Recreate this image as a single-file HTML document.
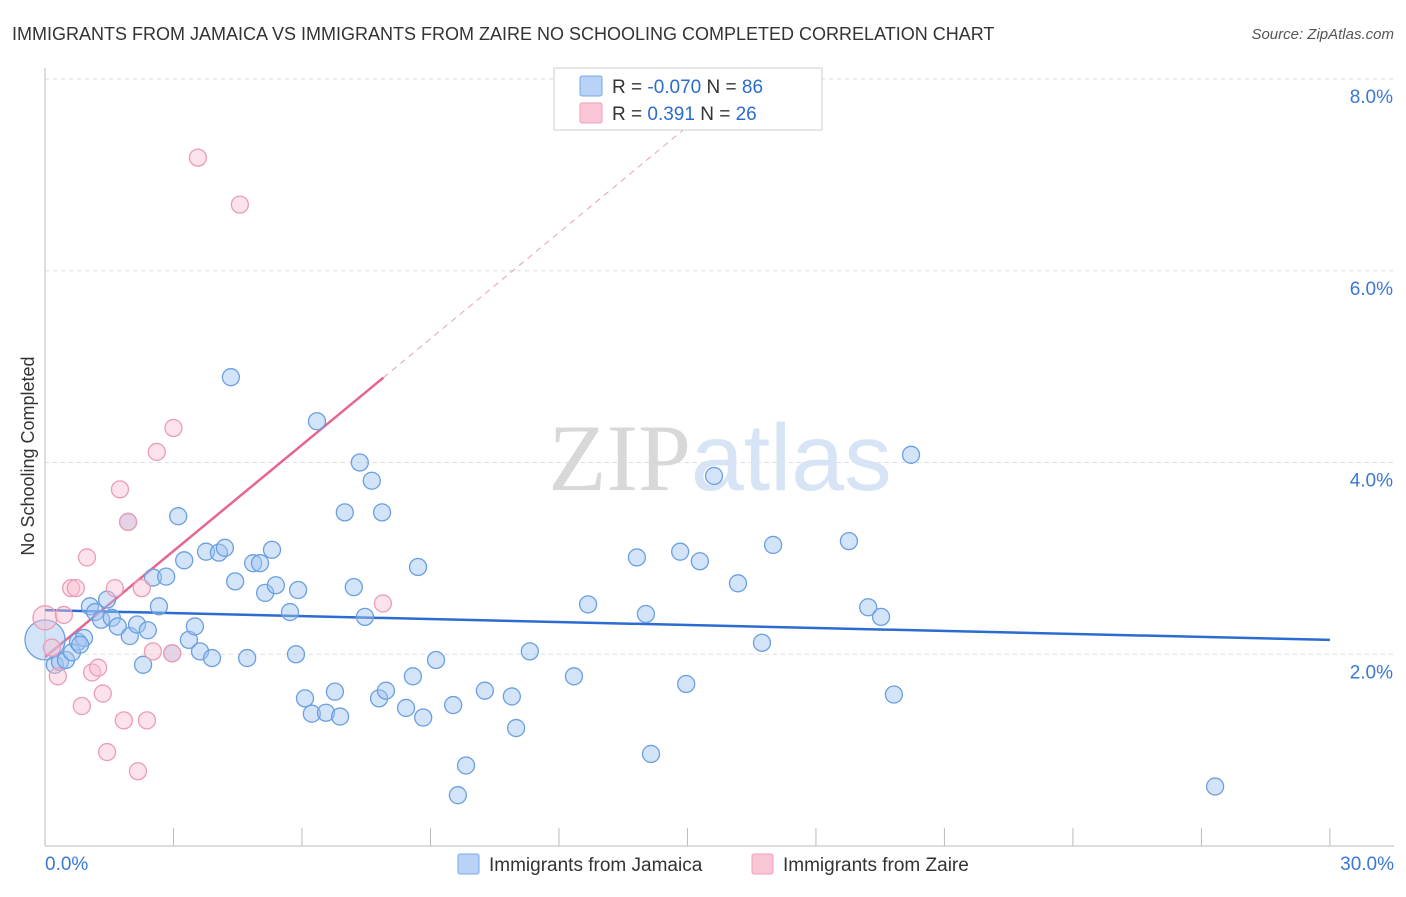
<!DOCTYPE html>
<html><head><meta charset="utf-8"><style>
body{margin:0;background:#fff;font-family:"Liberation Sans",sans-serif;}
svg text{font-family:"Liberation Sans",sans-serif;}
</style></head><body>
<svg id="chart" width="1406" height="892">
<text x="12" y="40" font-size="18" fill="#333">IMMIGRANTS FROM JAMAICA VS IMMIGRANTS FROM ZAIRE NO SCHOOLING COMPLETED CORRELATION CHART</text>
<text x="1394" y="39" font-size="15" fill="#555" text-anchor="end" font-style="italic">Source: ZipAtlas.com</text>
<text x="34" y="456" font-size="18" fill="#333" text-anchor="middle" transform="rotate(-90 34 456)">No Schooling Completed</text>
<g id="grid"></g>
<g id="axes"></g>
<text x="720" y="490" font-size="95" fill="#ddd" text-anchor="middle" font-family="Liberation Serif"><tspan fill="#d8d8d8" font-family="Liberation Serif">ZIP</tspan><tspan fill="#d6e4f5" font-family="Liberation Sans">atlas</tspan></text>
<g id="trends"></g>
<g id="pts"></g>
<g>
<rect x="554" y="68" width="268" height="62" fill="#fff" stroke="#ccc"/>
<rect x="580" y="76" width="22" height="20" fill="#b8d3f5" stroke="#7aaae6" rx="2"/>
<rect x="580" y="103" width="22" height="20" fill="#f9c6d6" stroke="#eea0b8" rx="2"/>
<text x="612" y="93" font-size="19" fill="#333">R = <tspan fill="#2a6ccf">-0.070</tspan>   N = <tspan fill="#2a6ccf">86</tspan></text>
<text x="612" y="120" font-size="19" fill="#333">R =   <tspan fill="#2a6ccf">0.391</tspan>   N = <tspan fill="#2a6ccf">26</tspan></text>
</g>
<g>
<rect x="458" y="854" width="21" height="20" fill="#b8d3f5" stroke="#7aaae6" rx="2"/>
<text x="489" y="871" font-size="19" fill="#333">Immigrants from Jamaica</text>
<rect x="752" y="854" width="21" height="20" fill="#f9c6d6" stroke="#eea0b8" rx="2"/>
<text x="783" y="871" font-size="19" fill="#333">Immigrants from Zaire</text>
</g>
</svg>
<script>
const xTickLabels=["0.0%","30.0%"];
const yTicks=[2,4,6,8];
const yTickLabels=["2.0%","4.0%","6.0%","8.0%"];
const jamX=[0,0.23,0.35,0.49,0.63,0.77,0.91,0.82,1.05,1.17,1.31,1.45,1.56,1.70,1.94,1.98,2.15,2.29,2.40,2.52,2.66,2.83,2.97,3.11,3.25,3.36,3.50,3.62,3.76,3.90,4.06,4.20,4.34,4.44,4.72,4.86,5.02,5.14,5.30,5.39,5.72,5.86,5.91,6.07,6.23,6.35,6.56,6.77,6.89,7.00,7.21,7.35,7.47,7.63,7.80,7.87,7.96,8.43,8.59,8.71,8.83,9.13,9.53,9.64,9.83,10.27,10.90,11.00,11.32,12.35,12.68,13.82,14.03,14.15,14.83,14.97,15.29,15.62,16.18,16.74,17.00,18.77,19.22,19.52,19.82,20.22,27.32];
const jamY=[2.15,1.89,1.92,1.94,2.02,2.13,2.17,2.10,2.50,2.44,2.36,2.57,2.38,2.29,3.38,2.19,2.31,1.89,2.25,2.80,2.50,2.81,2.01,3.44,2.98,2.15,2.29,2.03,3.07,1.96,3.06,3.11,4.89,2.76,1.96,2.95,2.95,2.64,3.09,2.72,2.44,2.00,2.67,1.54,1.38,4.43,1.39,1.61,1.35,3.48,2.70,4.00,2.39,3.81,1.54,3.48,1.62,1.44,1.77,2.91,1.34,1.94,1.47,0.53,0.84,1.62,1.56,1.23,2.03,1.77,2.52,3.01,2.42,0.96,3.07,1.69,2.97,3.86,2.74,2.12,3.14,3.18,2.49,2.39,1.58,4.08,0.62];
const zaiX=[0,0.16,0.30,0.44,0.61,0.72,0.86,0.98,1.10,1.24,1.35,1.45,1.63,1.75,1.84,1.94,2.17,2.26,2.38,2.52,2.61,2.97,3.00,3.57,4.55,7.89];
const zaiY=[2.38,2.07,1.77,2.41,2.69,2.69,1.46,3.01,1.81,1.86,1.59,0.98,2.69,3.72,1.31,3.38,0.78,2.69,1.31,2.03,4.11,2.01,4.36,7.18,6.69,2.53];
const jamTrend=[2.46,2.15];
const zaiTrend=[1.97,0.369];
const NS="http://www.w3.org/2000/svg";
const X=v=>45+v*42.83, Y=v=>846-v*95.875;
function mk(tag,attrs,parent){const e=document.createElementNS(NS,tag);for(const k in attrs)e.setAttribute(k,attrs[k]);parent.appendChild(e);return e;}
const grid=document.getElementById('grid'),axes=document.getElementById('axes');
yTicks.forEach((t,i)=>{
 const l=mk('line',{x1:45,x2:1394,y1:Y(t),y2:Y(t),stroke:'#ddd','stroke-dasharray':'4,4'},grid);
 
 
 const tx=mk('text',{x:1393,y:Y(t)+24,'font-size':19,fill:'#3a78d4','text-anchor':'end'},axes);
 tx.textContent=yTickLabels[i];
 
 
});
mk('line',{x1:45,x2:45,y1:68,y2:846,stroke:'#bbb'},axes);
mk('line',{x1:45,x2:1394,y1:846,y2:846,stroke:'#bbb'},axes);
for(let i=0;i<=10;i++){const tk=mk('line',{x1:X(i*3),x2:X(i*3),y1:828,y2:846,stroke:'#bbb'},axes);
 
 }
const xl0=mk('text',{x:45,y:870,'font-size':19,fill:'#3a78d4'},axes);xl0.textContent=xTickLabels[0];


const xl1=mk('text',{x:1394,y:870,'font-size':19,fill:'#3a78d4','text-anchor':'end'},axes);xl1.textContent=xTickLabels[1];


const pts=document.getElementById('pts');
jamX.forEach((x,i)=>{const c=mk('circle',{cx:X(x),cy:Y(jamY[i]),r:i==0?20:8.5,fill:'rgba(160,196,240,0.45)',stroke:'#6a9fe2','stroke-width':1.3},pts);
 
 });
zaiX.forEach((x,i)=>{const c=mk('circle',{cx:X(x),cy:Y(zaiY[i]),r:i==0?12:8.5,fill:'rgba(248,190,208,0.45)',stroke:'#eb9db5','stroke-width':1.3},pts);
 
 });
const tr=document.getElementById('trends');
const bl=mk('line',{x1:X(0),y1:Y(jamTrend[0]),x2:X(30),y2:Y(jamTrend[1]),stroke:'#2a6ccf','stroke-width':2.5},tr);


const xe=(8.1-zaiTrend[0])/zaiTrend[1];
const pd=mk('line',{x1:X(7.9),y1:Y(zaiTrend[0]+zaiTrend[1]*7.9),x2:X(xe),y2:Y(8.1),stroke:'#e8a0b6','stroke-width':1,'stroke-dasharray':'6,5'},tr);


const pl=mk('line',{x1:X(0),y1:Y(zaiTrend[0]),x2:X(7.9),y2:Y(zaiTrend[0]+zaiTrend[1]*7.9),stroke:'#e5668f','stroke-width':2.5},tr);


</script>
</body></html>
